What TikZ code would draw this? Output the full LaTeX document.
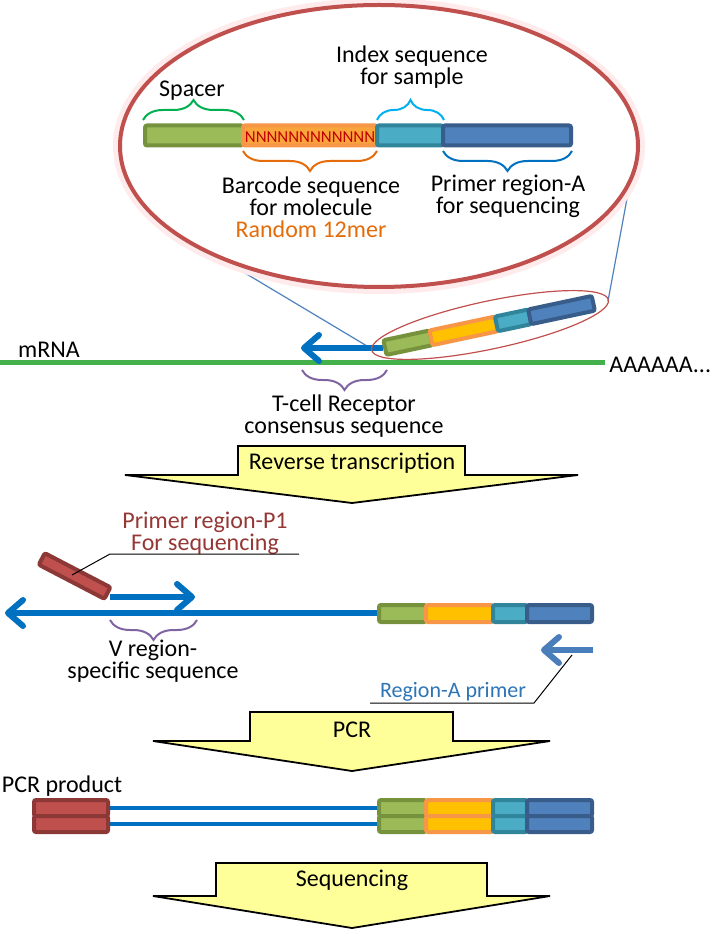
\documentclass[tikz,border=0pt]{standalone}
\usepackage{fontspec}
\setmainfont{Carlito}
\usetikzlibrary{arrows.meta,decorations.pathreplacing}

\definecolor{gfill}{RGB}{155,187,89}
\definecolor{gline}{RGB}{118,146,60}
\definecolor{ofill}{RGB}{255,192,0}
\definecolor{obig}{RGB}{250,165,60}
\definecolor{oline}{RGB}{247,150,70}
\definecolor{tfill}{RGB}{75,172,198}
\definecolor{tline}{RGB}{49,133,155}
\definecolor{bfill}{RGB}{79,129,189}
\definecolor{bline}{RGB}{56,93,138}
\definecolor{rfill}{RGB}{192,80,77}
\definecolor{rline}{RGB}{140,56,54}
\definecolor{dnablue}{RGB}{0,112,192}
\definecolor{primerblue}{RGB}{74,126,187}
\definecolor{primertext}{RGB}{46,117,182}
\definecolor{mrnagreen}{RGB}{68,176,75}
\definecolor{stageyellow}{RGB}{255,255,153}
\definecolor{bracepurple}{RGB}{128,100,162}
\definecolor{spgreen}{RGB}{0,176,80}
\definecolor{spblue}{RGB}{0,176,240}
\definecolor{bcorange}{RGB}{228,108,10}
\definecolor{nred}{RGB}{192,0,0}
\definecolor{p1red}{RGB}{149,55,53}

\begin{document}
\begin{tikzpicture}
	[x=0.5pt,y=-0.5pt,
	 every node/.style={inner sep=0pt,align=center,font=\fontsize{12}{11}\selectfont},
	 sg/.style={fill=gfill,draw=gline,line width=2pt,rounded corners=1pt},
	 so/.style={fill=ofill,draw=oline,line width=2pt,rounded corners=1pt},
	 sobig/.style={fill=obig,draw=oline,line width=2pt,rounded corners=1pt},
	 st/.style={fill=tfill,draw=tline,line width=2pt,rounded corners=1pt},
	 sb/.style={fill=bfill,draw=bline,line width=2pt,rounded corners=1pt},
	 sr/.style={fill=rfill,draw=rline,line width=2pt,rounded corners=1pt},
	 curly/.style={decorate,decoration={brace,amplitude=10pt},line width=1pt},
	 strand/.style={dnablue,line width=3pt,-{Straight Barb[length=7.5pt,width=13pt,round]}},
	 stage/.style={fill=stageyellow,draw=black,line width=0.9pt},
	 leader/.style={black,line width=0.5pt},
	 zoomline/.style={bfill,line width=0.6pt}]
	
	\useasboundingbox (0,0) rectangle (709,930);
	
	% zoom lines, behind the big ellipse
	\coordinate (zl) at (372,349);
	\coordinate (zr) at (608,301);
	\coordinate (zl0) at (183,236);
	\coordinate (zr0) at (636,150);
	\draw[zoomline] (zl) -- (zl0);
	\draw[zoomline] (zr) -- (zr0);
	
	\draw[red!8,line width=7pt] (379,146) ellipse [x radius=259,y radius=141];
	\draw[rfill,fill=white,line width=2pt] (379,146) ellipse [x radius=259,y radius=141];
	
	% tag in the big ellipse
	\foreach \xa/\xb/\sty in {145/243/sg,243/377/sobig,377/443/st,443/571/sb}
	\draw[\sty] (\xa,125.5) rectangle (\xb,145.5);
	\node[text=nred,font=\fontsize{8.4}{9}\selectfont] (rand) at (310,137) {NNNNNNNNNNNN};
	
	\draw[curly,spgreen] (143,120) -- (244,120);
	\draw[curly,spblue] (377,120) -- (444,120);
	\draw[curly,bcorange] (377,151) -- (243,151);
	\draw[curly,dnablue] (572,151) -- (443,151);
	\node (spacer) at (192,91) {Spacer};
	\node (index) at (412,67) {Index sequence\\for sample};
	\node (barcode) at (311,207) {Barcode sequence\\for molecule\\\textcolor{bcorange}{Random 12mer}};
	\node (primera) at (508,196) {Primer region-A\\for sequencing};
	
	% mRNA and RT primer
	\draw[mrnagreen,line width=2.5pt] (0,362) -- (605,362);
	\node (mrna) at (49,350) {mRNA};
	\node[anchor=west] (polya) at (609,365) {AAAAAA...};
	\coordinate (rt0) at (383,348);
	\coordinate (rt1) at (301,348);
	\draw[strand] (rt0) -- (rt1);
	\begin{scope}[shift={(383,348)},rotate=12]
		\foreach \xa/\xb/\sty in {2/49/sg,49/116/so,116/150/st,150/215/sb}
		\draw[\sty] (\xa,-7.5) rectangle (\xb,7.5);
	\end{scope}
	\draw[rfill,line width=0.6pt,rotate around={12:(490,325)}] (490,325) ellipse [x radius=121,y radius=24];
	\draw[curly,bracepurple] (387,370) -- (302,370);
	\node (tcr) at (344,416) {T-cell Receptor\\consensus sequence};
	
	% the three stage arrows
	\foreach \bl/\br/\by/\sh/\wl/\wr/\ty/\nm/\txt in
		{238/465/446/29/125/578/503/rt/Reverse transcription,
		 250/453/712/29/153/550/771/pcr/PCR,
		 216/487/863/33/153/550/928/seq/Sequencing}
	{
		\draw[stage] (\bl,\by) -- (\br,\by) -- (\br,\by+\sh) -- (\wr,\by+\sh) -- (352,\ty)
			-- (\wl,\by+\sh) -- (\bl,\by+\sh) -- cycle;
		\node (\nm) at (352,\by+17.5) {\txt};
	}
	
	% after reverse transcription
	\coordinate (c0) at (377,613);
	\coordinate (c1) at (5,613);
	\draw[strand] (c0) -- (c1);
	\coordinate (v0) at (110,597);
	\coordinate (v1) at (195,597);
	\draw[strand] (v0) -- (v1);
	\begin{scope}[shift={(40,558)},rotate=-27.5]
		\draw[sr] (2,-6.5) rectangle (76,6.5);
	\end{scope}
	\node[text=p1red] (p1) at (205,533) {Primer region-P1\\For sequencing};
	\coordinate (p1a) at (299,554);
	\coordinate (p1b) at (110,554);
	\coordinate (p1c) at (72,575);
	\draw[leader] (p1a) -- (p1b) -- (p1c);
	\draw[curly,bracepurple] (197,620) -- (110,620);
	\node (vreg) at (153,661) {V region-\\specific sequence};
	\begin{scope}[shift={(377,613.5)}]
		\foreach \xa/\xb/\sty in {2/49/sg,49/116/so,116/150/st,150/215/sb}
		\draw[\sty] (\xa,-8.5) rectangle (\xb,8.5);
	\end{scope}
	\coordinate (a0) at (593,650);
	\coordinate (a1) at (541,650);
	\draw[strand,primerblue] (a0) -- (a1);
	\node[text=primertext,font=\fontsize{11}{11}\selectfont] (rega) at (453,692) {Region-A primer};
	\coordinate (ra) at (572,655);
	\coordinate (rb) at (534,703);
	\coordinate (rc) at (370,703);
	\draw[leader] (ra) -- (rb) -- (rc);
	
	% PCR product
	\node (prod) at (62,786) {PCR product};
	\draw[dnablue,line width=2.2pt] (110,808) -- (377,808);
	\draw[dnablue,line width=2.2pt] (110,824) -- (377,824);
	\begin{scope}[shift={(32,816)}]
		\foreach \yy in {-16,0}
		\draw[sr] (2,\yy) rectangle (76,\yy+16);
	\end{scope}
	\begin{scope}[shift={(377,816)}]
		\foreach \xa/\xb/\sty in {2/49/sg,49/116/so,116/150/st,150/215/sb}
		\foreach \yy in {-16,0}
		\draw[\sty] (\xa,\yy) rectangle (\xb,\yy+16);
	\end{scope}
\end{tikzpicture}
\end{document}
